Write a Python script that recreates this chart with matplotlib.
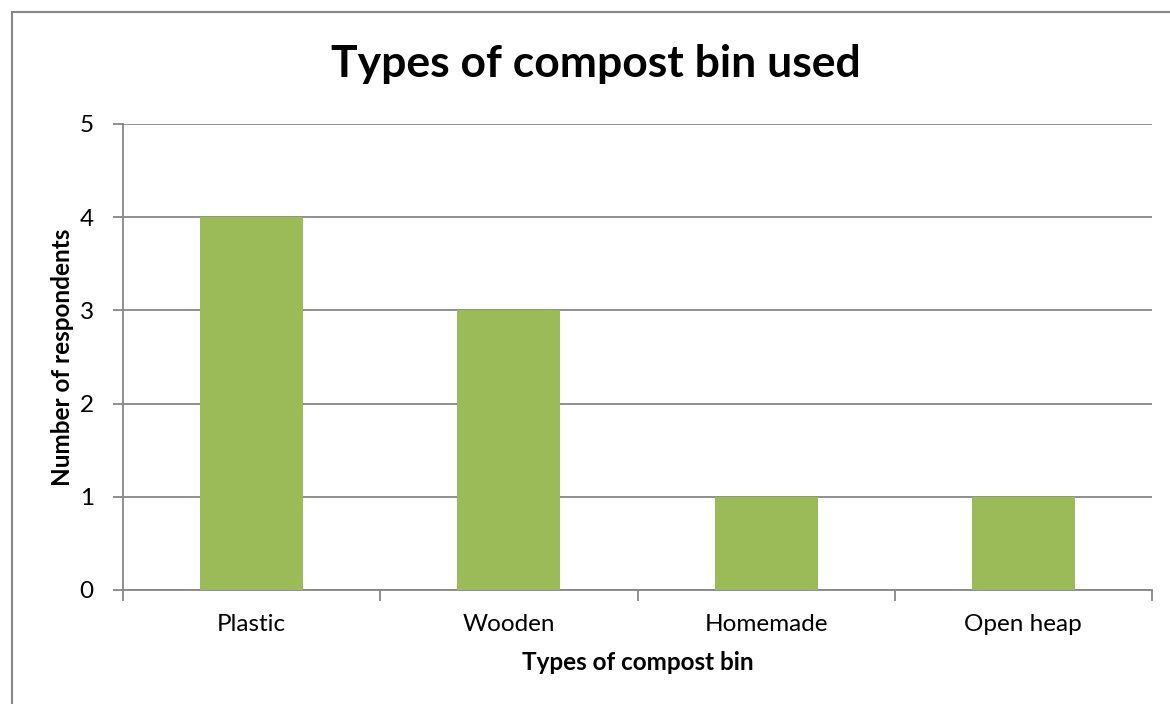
import matplotlib
matplotlib.use('Agg')
import matplotlib.pyplot as plt
from matplotlib.lines import Line2D

# dados do gráfico
categories = ['Plastic', 'Wooden', 'Homemade', 'Open heap']
respondents = [4, 3, 1, 1]
yticks = [0, 1, 2, 3, 4, 5]

plt.rcParams['font.family'] = ['Lato', 'DejaVu Sans']

fig = plt.figure(figsize=(11.7, 7.04), dpi=100)
ax = fig.add_axes([123/1170, 114/704, 1029/1170, 466/704])

grid_color = '#878787'
x = range(len(categories))
ax.bar(x, respondents, width=0.4, color='#9BBB59', zorder=3)

ax.set_xlim(-0.5, len(categories) - 0.5)
ax.set_ylim(0, 5)
ax.set_yticks(yticks)
ax.set_yticklabels([str(v) for v in yticks], fontsize=17.5)
ax.yaxis.grid(True, color=grid_color, linewidth=1.3, zorder=0)

# ticks do eixo x nas divisões entre categorias
ax.set_xticks([i - 0.5 for i in range(len(categories) + 1)])
ax.set_xticklabels([])
ax.set_xticks(list(x), minor=True)
ax.set_xticklabels(categories, minor=True, fontsize=17.5)
ax.tick_params(axis='x', which='minor', length=0, pad=17)
ax.tick_params(axis='x', which='major', length=8, color=grid_color, width=1.3)
ax.tick_params(axis='y', length=7, color=grid_color, width=1.3, pad=14)

for side in ['top', 'right']:
    ax.spines[side].set_visible(False)
for side in ['left', 'bottom']:
    ax.spines[side].set_color(grid_color)
    ax.spines[side].set_linewidth(1.3)

fig.suptitle('Types of compost bin used', fontsize=32, fontweight='bold',
             x=596/1170, y=1 - 64/704, va='center')
ax.set_xlabel('Types of compost bin', fontsize=17.5, fontweight='bold', labelpad=12)
ax.set_ylabel('Number of respondents', fontsize=17.5, fontweight='bold')
ax.yaxis.set_label_coords(-0.048, 0.5)

# borda da área do gráfico
bx, by = 12/1170, 1 - 12/704
fig.add_artist(Line2D([bx, bx], [0, by], color='#888888', linewidth=1.5, transform=fig.transFigure))
fig.add_artist(Line2D([bx, 1], [by, by], color='#888888', linewidth=1.5, transform=fig.transFigure))

fig.savefig('out.png', dpi=100, facecolor='white')
